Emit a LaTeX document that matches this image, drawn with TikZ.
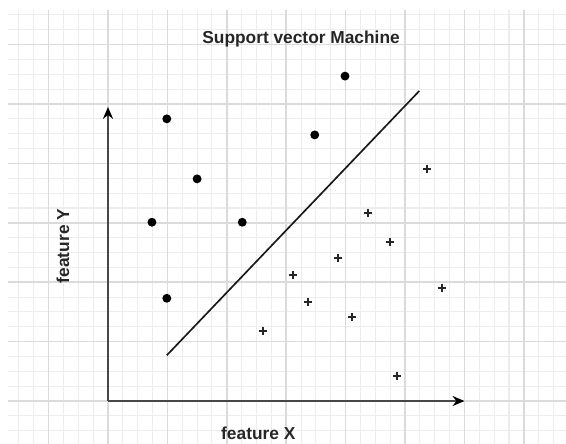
\documentclass[tikz,border=0pt]{standalone}
\usepackage{fontspec}
\setmainfont{Liberation Sans}
\usetikzlibrary{arrows.meta}

\begin{document}
\begin{tikzpicture}[
        >={Stealth[length=2mm, width=1.7mm, color=black]},
        dot/.style={
            circle,
            fill=black,
            inner sep=0pt,
            minimum size=0.15cm
        },
        plusmark/.style={
            inner sep=0pt,
            minimum size=0.14cm,
            path picture={
                \draw[line width=0.9pt, black!85]
                    (path picture bounding box.north) -- (path picture bounding box.south)
                    (path picture bounding box.west) -- (path picture bounding box.east);
            }
        },
        axis/.style={->, line width=1.1pt, draw=black!72},
        label/.style={font=\fontsize{8.3}{10}\selectfont\bfseries, text=black!85, inner sep=0pt}
    ]

    \useasboundingbox (-1.818, -0.707) rectangle (7.710, 6.751);

    % grid background
    \begin{scope}
        \clip (-1.68, -0.707) rectangle (7.710, 6.58);
        \draw[black!7, line width=0.5pt] (-2, -1) grid[step=0.25] (8, 7);
        \draw[black!14, line width=0.8pt] (-2, -1) grid[step=1] (8, 7);
    \end{scope}

    \node[label] (title) at (3.25, 6.09) {Support vector Machine};

    % axes
    \coordinate (o) at (0, 0);
    \coordinate (xend) at (6, 0);
    \coordinate (yend) at (0, 4.95);
    \draw[axis] (o) -- (xend);
    \draw[axis] (o) -- (yend);

    \node[label] (xlab) at (2.53, -0.54) {feature X};
    \node[label, rotate=90] (ylab) at (-0.76, 2.61) {feature Y};

    % class one
    \node[dot] (d1) at (0.99, 4.75) {};
    \node[dot] (d2) at (1.50, 3.74) {};
    \node[dot] (d3) at (0.74, 3.01) {};
    \node[dot] (d4) at (2.26, 3.01) {};
    \node[dot] (d5) at (0.99, 1.73) {};
    \node[dot] (d6) at (3.48, 4.48) {};
    \node[dot] (d7) at (3.99, 5.47) {};

    % class two
    \node[plusmark] (p1)  at (5.37, 3.91) {};
    \node[plusmark] (p2)  at (4.38, 3.16) {};
    \node[plusmark] (p3)  at (4.75, 2.68) {};
    \node[plusmark] (p4)  at (3.87, 2.41) {};
    \node[plusmark] (p5)  at (3.11, 2.12) {};
    \node[plusmark] (p6)  at (3.37, 1.67) {};
    \node[plusmark] (p7)  at (5.62, 1.90) {};
    \node[plusmark] (p8)  at (4.11, 1.41) {};
    \node[plusmark] (p9)  at (2.61, 1.18) {};
    \node[plusmark] (p10) at (4.87, 0.42) {};

    % separating line
    \coordinate (s1) at (0.99, 0.77);
    \coordinate (s2) at (5.24, 5.22);
    \draw[line width=0.8pt, black!90] (s1) -- (s2);

\end{tikzpicture}
\end{document}
